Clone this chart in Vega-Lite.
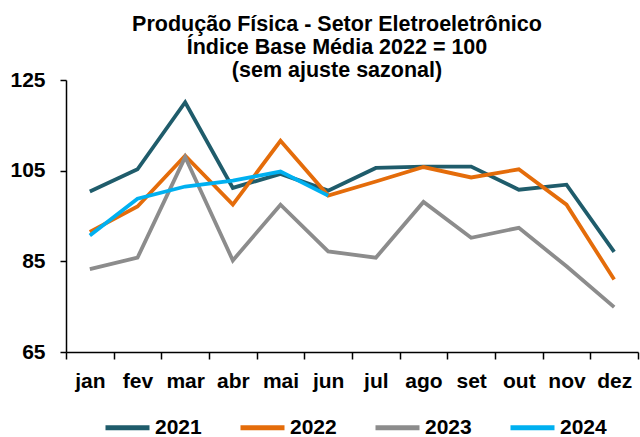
{
  "$schema": "https://vega.github.io/schema/vega-lite/v6.json",
  "autosize": "none",
  "width": 572,
  "height": 272,
  "padding": {"left": 66, "top": 80, "right": 2, "bottom": 85},
  "background": "white",
  "config": {
    "view": {"stroke": null},
    "font": "Liberation Sans"
  },
  "title": {
    "text": ["Produção Física - Setor Eletroeletrônico", "Índice Base Média 2022 = 100", "(sem ajuste sazonal)"],
    "font": "Liberation Sans",
    "fontSize": 21.5,
    "fontWeight": "bold",
    "lineHeight": 23,
    "anchor": "middle",
    "dx": -15,
    "offset": -12,
    "color": "black"
  },
  "data": {
    "values": [
      {"mes": "jan", "ano": "2021", "valor": 100.4},
      {"mes": "fev", "ano": "2021", "valor": 105.3},
      {"mes": "mar", "ano": "2021", "valor": 120.1},
      {"mes": "abr", "ano": "2021", "valor": 101.2},
      {"mes": "mai", "ano": "2021", "valor": 104.3},
      {"mes": "jun", "ano": "2021", "valor": 100.6},
      {"mes": "jul", "ano": "2021", "valor": 105.6},
      {"mes": "ago", "ano": "2021", "valor": 105.9},
      {"mes": "set", "ano": "2021", "valor": 105.9},
      {"mes": "out", "ano": "2021", "valor": 100.8},
      {"mes": "nov", "ano": "2021", "valor": 101.9},
      {"mes": "dez", "ano": "2021", "valor": 87.1},
      {"mes": "jan", "ano": "2022", "valor": 91.5},
      {"mes": "fev", "ano": "2022", "valor": 97.1},
      {"mes": "mar", "ano": "2022", "valor": 108.3},
      {"mes": "abr", "ano": "2022", "valor": 97.5},
      {"mes": "mai", "ano": "2022", "valor": 111.6},
      {"mes": "jun", "ano": "2022", "valor": 99.5},
      {"mes": "jul", "ano": "2022", "valor": 102.6},
      {"mes": "ago", "ano": "2022", "valor": 105.8},
      {"mes": "set", "ano": "2022", "valor": 103.5},
      {"mes": "out", "ano": "2022", "valor": 105.3},
      {"mes": "nov", "ano": "2022", "valor": 97.5},
      {"mes": "dez", "ano": "2022", "valor": 81.0},
      {"mes": "jan", "ano": "2023", "valor": 83.3},
      {"mes": "fev", "ano": "2023", "valor": 85.8},
      {"mes": "mar", "ano": "2023", "valor": 108.0},
      {"mes": "abr", "ano": "2023", "valor": 85.2},
      {"mes": "mai", "ano": "2023", "valor": 97.5},
      {"mes": "jun", "ano": "2023", "valor": 87.2},
      {"mes": "jul", "ano": "2023", "valor": 85.8},
      {"mes": "ago", "ano": "2023", "valor": 98.1},
      {"mes": "set", "ano": "2023", "valor": 90.2},
      {"mes": "out", "ano": "2023", "valor": 92.4},
      {"mes": "nov", "ano": "2023", "valor": 83.9},
      {"mes": "dez", "ano": "2023", "valor": 74.9},
      {"mes": "jan", "ano": "2024", "valor": 90.7},
      {"mes": "fev", "ano": "2024", "valor": 98.8},
      {"mes": "mar", "ano": "2024", "valor": 101.5},
      {"mes": "abr", "ano": "2024", "valor": 102.8},
      {"mes": "mai", "ano": "2024", "valor": 104.8},
      {"mes": "jun", "ano": "2024", "valor": 99.5}
    ]
  },
  "mark": {"type": "line", "strokeWidth": 3.8, "strokeJoin": "miter"},
  "encoding": {
    "x": {
      "field": "mes",
      "type": "nominal",
      "sort": ["jan", "fev", "mar", "abr", "mai", "jun", "jul", "ago", "set", "out", "nov", "dez"],
      "scale": {"type": "band", "paddingInner": 0, "paddingOuter": 0},
      "axis": {
        "title": null,
        "labelAngle": 0,
        "labelFont": "Liberation Sans",
        "labelFontSize": 21,
        "labelFontWeight": "bold",
        "labelColor": "black",
        "labelPadding": 11,
        "tickBand": "extent",
        "tickSize": 7,
        "tickColor": "black",
        "tickWidth": 1.5,
        "domainColor": "black",
        "domainWidth": 1.5,
        "grid": false
      }
    },
    "y": {
      "field": "valor",
      "type": "quantitative",
      "scale": {"domain": [65, 125], "nice": false, "zero": false},
      "axis": {
        "title": null,
        "values": [65, 85, 105, 125],
        "labelFont": "Liberation Sans",
        "labelFontSize": 21,
        "labelFontWeight": "bold",
        "labelColor": "black",
        "labelPadding": 15,
        "tickSize": 6,
        "tickColor": "black",
        "tickWidth": 1.5,
        "domainColor": "black",
        "domainWidth": 1.5,
        "grid": false
      }
    },
    "color": {
      "field": "ano",
      "type": "nominal",
      "scale": {"domain": ["2021", "2022", "2023", "2024"], "range": ["#1F5C6B", "#E46C0A", "#8C8C8C", "#00B0F0"]},
      "legend": {
        "title": null,
        "orient": "none",
        "direction": "horizontal",
        "legendX": 37,
        "legendY": 323,
        "symbolType": "stroke",
        "symbolSize": 1936,
        "symbolStrokeWidth": 5,
        "labelFont": "Liberation Sans",
        "labelFontSize": 21,
        "labelFontWeight": "bold",
        "labelColor": "black",
        "labelOffset": 3,
        "columnPadding": 28
      }
    }
  }
}
